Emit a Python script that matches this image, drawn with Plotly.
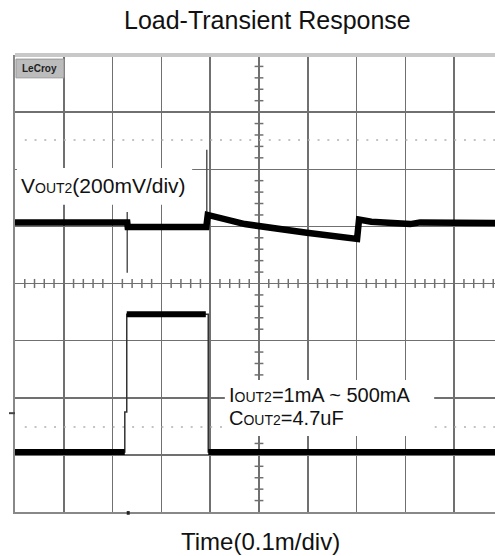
import plotly.graph_objects as go

# ---------------- data (in divisions) ----------------
# Output voltage trace (CH1, 200mV/div)
t_vout = [0.00, 2.30, 2.31, 3.92, 3.95, 4.71, 5.98, 7.01, 7.05, 7.30, 8.10, 8.30, 9.84]
v_vout = [5.07, 5.07, 4.99, 4.99, 5.20, 5.04, 4.89, 4.78, 5.12, 5.08, 5.04, 5.07, 5.06]

# Transient spikes on the output voltage
spike_t = [2.30, 3.93]
spike_lo = [4.19, 4.99]
spike_hi = [5.25, 6.34]

# Load current trace (1mA ~ 500mA)
t_iout = [0.00, 2.25, 2.25, 2.29, 2.29, 3.91, 3.96, 3.96, 9.84]
v_iout = [1.05, 1.05, 1.75, 1.75, 3.46, 3.46, 3.46, 1.05, 1.05]

# Dotted marker levels
marker_levels = [6.51, 1.49]

title_text = "Load-Transient Response"
xlabel_text = "Time(0.1m/div)"
vout_label = "V<span style='font-size:14px'>OUT2</span>(200mV/div)"
iout_label = "I<span style='font-size:14px'>OUT2</span>=1mA ~ 500mA"
cout_label = "C<span style='font-size:14px'>OUT2</span>=4.7uF"

# ---------------- figure ----------------
W, H = 495, 556
ML, MR, MT, MB = 15, 0, 55, 44
XMAX = (W - ML - MR) / 48.8
NX, NY = 10, 8

fig = go.Figure()

# thin full current waveform (edges)
fig.add_trace(go.Scatter(x=t_iout, y=v_iout, mode="lines",
                         line=dict(color="#333333", width=1.5),
                         hoverinfo="skip", showlegend=False))
# thick flat parts of current waveform
thick_t, thick_v = [], []
for i in range(len(t_iout)):
    if i > 0 and (t_iout[i] - t_iout[i - 1]) < 0.06:
        thick_t.append(None)
        thick_v.append(None)
    thick_t.append(t_iout[i])
    thick_v.append(v_iout[i])
fig.add_trace(go.Scatter(x=thick_t, y=thick_v, mode="lines",
                         line=dict(color="#000000", width=6),
                         connectgaps=False, hoverinfo="skip", showlegend=False))

# spikes
sx, sy = [], []
for t, lo, hi in zip(spike_t, spike_lo, spike_hi):
    sx += [t, t, None]
    sy += [lo, hi, None]
fig.add_trace(go.Scatter(x=sx, y=sy, mode="lines",
                         line=dict(color="#555555", width=1.5),
                         hoverinfo="skip", showlegend=False))

# output voltage
fig.add_trace(go.Scatter(x=t_vout, y=v_vout, mode="lines",
                         line=dict(color="#000000", width=6.5),
                         hoverinfo="skip", showlegend=False))

shapes = []
# minor ticks on center axes
for k in range(int(XMAX * 5) + 1):
    if k % 5 == 0:
        continue
    xx = k * 0.2
    shapes.append(dict(type="line", xref="x", yref="y", x0=xx, x1=xx,
                       y0=4 - 0.08, y1=4 + 0.08,
                       line=dict(color="#707070", width=1.5), layer="between"))
for k in range(NY * 5 + 1):
    if k % 5 == 0:
        continue
    yy = k * 0.2
    shapes.append(dict(type="line", xref="x", yref="y", x0=5 - 0.09, x1=5 + 0.09,
                       y0=yy, y1=yy,
                       line=dict(color="#707070", width=1.5), layer="between"))
# dotted marker lines
for lv in marker_levels:
    shapes.append(dict(type="line", xref="x", yref="y", x0=0.2, x1=XMAX,
                       y0=lv, y1=lv,
                       line=dict(color="#b0b0b0", width=1.5, dash="2px,7.76px"),
                       layer="between"))
# top border
shapes.append(dict(type="line", xref="paper", yref="paper", x0=0, x1=1, y0=1, y1=1,
                   line=dict(color="#c8c8c8", width=4)))
# white label boxes
shapes.append(dict(type="rect", xref="x", yref="y", x0=0.04, x1=3.63, y0=5.38, y1=6.02,
                   fillcolor="white", line=dict(width=0), layer="above"))
shapes.append(dict(type="rect", xref="x", yref="y", x0=4.30, x1=8.59, y0=1.33, y1=2.31,
                   fillcolor="white", line=dict(width=0), layer="above"))
# LeCroy logo box
shapes.append(dict(type="rect", xref="paper", yref="paper", x0=0.002, x1=0.102,
                   y0=0.950, y1=0.991, fillcolor="#bcbcbc",
                   line=dict(color="#999999", width=1), layer="above"))
# ground marker on left, trigger marker at bottom
shapes.append(dict(type="line", xref="paper", yref="paper", x0=-6 / 480, x1=0,
                   y0=1.73 / 8, y1=1.73 / 8, line=dict(color="#444444", width=2)))
shapes.append(dict(type="line", xref="paper", yref="paper", x0=2.32 / XMAX, x1=2.32 / XMAX,
                   y0=-0.006, y1=0.002, line=dict(color="#222222", width=3)))

annotations = [
    dict(text=title_text, xref="paper", yref="paper", x=(267.5 - ML) / 480,
         y=1 + (MT - 20) / 457, xanchor="center", yanchor="middle", showarrow=False,
         font=dict(family="Liberation Sans, Arial", size=25, color="#111111")),
    dict(text=xlabel_text, xref="paper", yref="paper", x=(260 - ML) / 480,
         y=-(541 - 512) / 457, xanchor="center", yanchor="middle", showarrow=False,
         font=dict(family="Liberation Sans, Arial", size=24, color="#111111")),
    dict(text=vout_label, xref="x", yref="y", x=0.08, y=5.72,
         xanchor="left", yanchor="middle", showarrow=False,
         font=dict(family="Liberation Sans, Arial", size=21, color="#111111")),
    dict(text=iout_label, xref="x", yref="y", x=4.34, y=2.04,
         xanchor="left", yanchor="middle", showarrow=False,
         font=dict(family="Liberation Sans, Arial", size=20, color="#111111")),
    dict(text=cout_label, xref="x", yref="y", x=4.34, y=1.64,
         xanchor="left", yanchor="middle", showarrow=False,
         font=dict(family="Liberation Sans, Arial", size=20, color="#111111")),
    dict(text="<b>LeCroy</b>", xref="paper", yref="paper", x=0.052, y=0.970,
         xanchor="center", yanchor="middle", showarrow=False,
         font=dict(family="Liberation Sans, Arial", size=10, color="#222222")),
]

fig.update_layout(
    width=W, height=H,
    margin=dict(l=ML, r=MR, t=MT, b=MB, pad=0),
    paper_bgcolor="white", plot_bgcolor="white",
    shapes=shapes, annotations=annotations,
    xaxis=dict(range=[0, XMAX], dtick=1, tick0=0, showgrid=True,
               gridcolor="#707070", gridwidth=1.5, zeroline=False,
               showline=True, linecolor="#888888", linewidth=2,
               showticklabels=False, ticks="", fixedrange=True),
    yaxis=dict(range=[0, NY], dtick=1, tick0=0, showgrid=True,
               gridcolor="#707070", gridwidth=1.5, zeroline=False,
               showline=True, linecolor="#888888", linewidth=2,
               showticklabels=False, ticks="", fixedrange=True),
    showlegend=False,
)

fig.write_html("out.html",
               config={"displayModeBar": False, "staticPlot": True},
               post_script="document.body.style.margin='0px';document.body.style.overflow='hidden';")
